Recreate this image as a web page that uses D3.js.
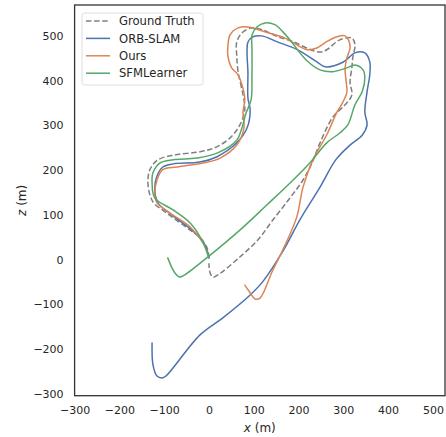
<!DOCTYPE html>
<html>
<head>
<meta charset="utf-8">
<script src="https://cdn.jsdelivr.net/npm/d3@7"></script>
<style>
  body { margin: 0; background: #fff; }
  svg { display: block; font-family: "DejaVu Sans", sans-serif; }
</style>
</head>
<body>
<svg width="446" height="437"></svg>
<script>
// trajectories as [x, z] in metres
const groundTruth = [[0,4],[-4,26],[-20,49],[-42,66],[-94,104],[-125,129],[-136,167],[-132,201],[-114,223],[-76,234],[-20,241],[13,250],[47,272],[69,301],[80,335],[76,368],[65,420],[62,457],[62,486],[74,507],[96,518],[118,514],[154,498],[188,487],[232,467],[250,464],[263,469],[292,491],[319,495],[326,480],[321,451],[319,428],[315,397],[319,368],[304,346],[277,319],[248,261],[230,216],[210,178],[181,138],[143,89],[109,44],[69,6],[20,-34],[9,-39],[2,-28],[0,-8]];
const orbSlam = [[0,4],[-11,37],[-38,66],[-83,100],[-114,127],[-121,160],[-116,187],[-103,207],[-80,214],[-20,218],[18,230],[62,261],[85,294],[92,335],[87,361],[87,419],[85,464],[87,486],[98,498],[118,500],[154,486],[196,470],[241,442],[259,431],[299,441],[326,462],[348,462],[359,442],[359,413],[353,375],[348,330],[353,301],[342,278],[315,256],[283,223],[248,162],[203,89],[165,19],[121,-48],[92,-79],[31,-130],[-20,-168],[-94,-258],[-103,-264],[-116,-260],[-125,-235],[-127,-186]];
const ours = [[0,4],[-13,37],[-42,73],[-87,104],[-116,127],[-121,145],[-116,178],[-103,201],[-71,207],[-13,216],[25,227],[62,256],[78,294],[76,330],[80,361],[65,413],[51,428],[42,457],[42,473],[47,502],[65,518],[87,520],[125,509],[170,495],[219,469],[241,473],[263,487],[286,498],[304,500],[312,490],[315,473],[308,451],[304,428],[306,400],[308,375],[299,352],[286,330],[263,279],[232,223],[210,162],[196,95],[165,22],[141,-27],[114,-86],[103,-88],[92,-74],[80,-57]];
const sfmLearner = [[0,4],[-16,44],[-42,82],[-80,111],[-121,138],[-127,171],[-125,194],[-109,216],[-80,223],[-27,227],[18,238],[62,267],[74,296],[83,328],[94,357],[96,413],[96,475],[96,502],[107,520],[125,529],[147,525],[165,509],[181,491],[217,446],[248,424],[277,420],[306,428],[326,435],[344,424],[348,406],[342,375],[326,346],[310,301],[292,283],[263,261],[225,216],[188,178],[129,122],[69,66],[0,8],[-54,-34],[-65,-39],[-76,-30],[-92,4]];

const seriesNames = ['Ground Truth', 'ORB-SLAM', 'Ours', 'SFMLearner'];
const seriesColors = ['#7f7f7f', '#4c72b0', '#dd8452', '#55a868'];
const seriesData = [groundTruth, orbSlam, ours, sfmLearner];

const xTicks = [-300, -200, -100, 0, 100, 200, 300, 400, 500];
const zTicks = [-300, -200, -100, 0, 100, 200, 300, 400, 500];

const svg = d3.select('svg');
const plot = { left: 74.6, right: 445, top: 5, bottom: 395.7 };

const x = d3.scaleLinear().domain([-300, 527]).range([plot.left, plot.right]);
const y = d3.scaleLinear().domain([-304, 569]).range([plot.bottom, plot.top]);

const textColor = '#262626';

// axes (no tick marks, seaborn white style)
const xAxis = svg.append('g')
    .attr('transform', `translate(0,${plot.bottom})`)
    .call(d3.axisBottom(x).tickValues(xTicks).tickSize(0).tickPadding(11).tickFormat(d3.format('d')));
const yAxis = svg.append('g')
    .attr('transform', `translate(${plot.left},0)`)
    .call(d3.axisLeft(y).tickValues(zTicks).tickSize(0).tickPadding(11).tickFormat(d3.format('d')));

[xAxis, yAxis].forEach(g => {
    g.select('.domain').remove();
    g.selectAll('text')
        .attr('font-family', '"DejaVu Sans", sans-serif')
        .attr('font-size', '11px')
        .attr('fill', textColor)
        .text(d => d < 0 ? '\u2212' + Math.abs(d) : d);
});

// trajectories
const line = d3.line()
    .x(d => x(d[0]))
    .y(d => y(d[1]))
    .curve(d3.curveCatmullRom.alpha(0.5));

const clip = svg.append('clipPath').attr('id', 'clip')
    .append('rect')
    .attr('x', plot.left).attr('y', plot.top)
    .attr('width', plot.right - plot.left).attr('height', plot.bottom - plot.top);

const lines = svg.append('g').attr('clip-path', 'url(#clip)');
// draw order: GT, ORB, Ours, SFM
seriesData.forEach((data, i) => {
    lines.append('path')
        .datum(data)
        .attr('d', line)
        .attr('fill', 'none')
        .attr('stroke', seriesColors[i])
        .attr('stroke-width', 1.5)
        .attr('stroke-linejoin', 'round')
        .attr('stroke-linecap', i === 0 ? 'butt' : 'round')
        .attr('stroke-dasharray', i === 0 ? '5.5,2.6' : null);
});

// frame
svg.append('rect')
    .attr('x', plot.left).attr('y', plot.top)
    .attr('width', plot.right - plot.left).attr('height', plot.bottom - plot.top)
    .attr('fill', 'none')
    .attr('stroke', '#333')
    .attr('stroke-width', 1.3);

// legend
const legend = svg.append('g');
legend.append('rect')
    .attr('x', 82).attr('y', 13)
    .attr('width', 121).attr('height', 72)
    .attr('rx', 2.5)
    .attr('fill', '#fff')
    .attr('fill-opacity', 0.8)
    .attr('stroke', '#d6d6d6')
    .attr('stroke-width', 0.8);

seriesNames.forEach((name, i) => {
    const ly = 21 + i * 17.4;
    legend.append('line')
        .attr('x1', 86).attr('x2', 110)
        .attr('y1', ly).attr('y2', ly)
        .attr('stroke', seriesColors[i])
        .attr('stroke-width', 1.5)
        .attr('stroke-dasharray', i === 0 ? '5.5,2.6' : null);
    legend.append('text')
        .attr('x', 119).attr('y', ly)
        .attr('dy', '0.36em')
        .attr('font-size', '11.6px')
        .attr('fill', textColor)
        .text(name);
});

// axis labels
const xl = svg.append('text')
    .attr('x', (plot.left + plot.right) / 2)
    .attr('y', 432)
    .attr('text-anchor', 'middle')
    .attr('font-size', '12px')
    .attr('fill', textColor);
xl.append('tspan').attr('font-style', 'italic').text('x');
xl.append('tspan').text(' (m)');

const yl = svg.append('text')
    .attr('transform', `translate(26,${(plot.top + plot.bottom) / 2}) rotate(-90)`)
    .attr('text-anchor', 'middle')
    .attr('font-size', '12px')
    .attr('fill', textColor);
yl.append('tspan').attr('font-style', 'italic').text('z');
yl.append('tspan').text(' (m)');
</script>
</body>
</html>
